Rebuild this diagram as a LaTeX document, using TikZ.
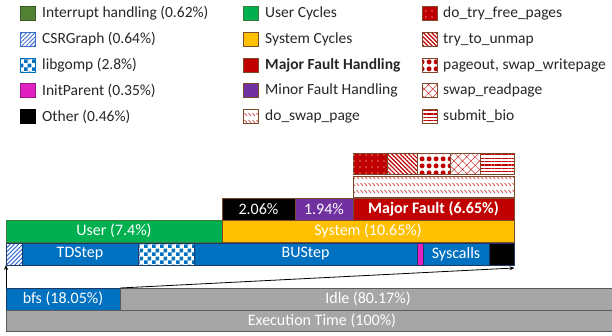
\documentclass[tikz,border=0pt]{standalone}
\usepackage{fontspec}
\setmainfont{Carlito}
\usetikzlibrary{patterns,patterns.meta,arrows.meta}

\definecolor{intgreen}{HTML}{548235}
\definecolor{usergreen}{HTML}{00B050}
\definecolor{sysyellow}{HTML}{FFC000}
\definecolor{faultred}{HTML}{C00000}
\definecolor{minorpurple}{HTML}{7030A0}
\definecolor{stepblue}{HTML}{0070C0}
\definecolor{hatchblue}{HTML}{3A6FD0}
\definecolor{initpink}{HTML}{E020C0}
\definecolor{idlegray}{HTML}{A6A6A6}
\definecolor{edgebrown}{HTML}{7B4A2A}
\definecolor{edgenavy}{HTML}{1F3864}
\definecolor{edgegreen}{HTML}{3B7A3B}
\definecolor{edgegray}{HTML}{5A5A5A}
\definecolor{legendtext}{HTML}{262626}

% 4pt checkerboard
\pgfdeclarepatternformonly{checkers}{\pgfpointorigin}{\pgfqpoint{8pt}{8pt}}{\pgfqpoint{8pt}{8pt}}{%
  \pgfpathrectangle{\pgfpointorigin}{\pgfqpoint{4pt}{4pt}}%
  \pgfpathrectangle{\pgfqpoint{4pt}{4pt}}{\pgfqpoint{4pt}{4pt}}%
  \pgfusepath{fill}}
% rows of short backslash dashes
\pgfdeclarepatternformonly{swapdash}{\pgfqpoint{-1pt}{-1pt}}{\pgfqpoint{5pt}{8pt}}{\pgfqpoint{4pt}{7pt}}{%
  \pgfsetlinewidth{0.9pt}%
  \pgfpathmoveto{\pgfqpoint{0.5pt}{5pt}}\pgfpathlineto{\pgfqpoint{3pt}{2pt}}%
  \pgfusepath{stroke}}

\newcommand{\barfont}{\fontsize{16}{18}\selectfont}
\newcommand{\legfont}{\fontsize{15.5}{18}\selectfont}

\tikzset{
  sz/.style 2 args={minimum width=#1pt, minimum height=#2pt},
  bar/.style={draw, line width=0.8pt, inner sep=0pt, outer sep=0pt,
    text=white, font=\barfont, anchor=north west},
  swatch/.style={draw, line width=0.6pt, inner sep=0pt, outer sep=0pt,
    minimum width=15pt, minimum height=14pt, anchor=west},
  legtext/.style={inner sep=0pt, anchor=west, font=\legfont, text=legendtext},
  % fills
  intfill/.style={fill=intgreen, draw=intgreen!70!black},
  csrfill/.style={fill=white, pattern={Lines[angle=45,distance=3pt,line width=1pt]}, pattern color=hatchblue},
  gompfill/.style={fill=white, pattern=checkers, pattern color=stepblue},
  initfill/.style={fill=initpink},
  otherfill/.style={fill=black},
  userfill/.style={fill=usergreen, draw=edgegreen},
  sysfill/.style={fill=sysyellow, draw=edgebrown},
  majfill/.style={fill=faultred, draw=edgebrown},
  minfill/.style={fill=minorpurple, draw=edgebrown},
  swapfill/.style={draw=edgebrown, pattern=swapdash, pattern color=faultred!60!white},
  freefill/.style={draw=edgebrown, fill=faultred,
    postaction={pattern={Dots[distance=6pt,radius=0.7pt]}, pattern color=white}},
  unmapfill/.style={draw=edgebrown, pattern={Lines[angle=-45,distance=3pt,line width=1.1pt]}, pattern color=faultred},
  pageoutfill/.style={draw=edgebrown, pattern={Dots[distance=6.5pt,radius=2.6pt]}, pattern color=faultred},
  readfill/.style={draw=edgebrown, pattern={Hatch[angle=45,distance=6pt,line width=0.5pt]}, pattern color=faultred!80!white},
  biofill/.style={draw=edgebrown, pattern={Lines[angle=0,distance=3.4pt,line width=1.2pt]}, pattern color=faultred},
  bluebar/.style={bar, fill=stepblue, draw=edgenavy},
  graybar/.style={bar, fill=idlegray, draw=edgegray},
  link/.style={line width=0.8pt, -{Stealth[length=5pt,width=4pt]}},
}

\begin{document}
\begin{tikzpicture}[x=1pt, y=-1pt]
\useasboundingbox (0,0) rectangle (612,335);

% ---- legend, first column
\node[swatch, intfill]             (li) at (20,13.5)  {};
\node[legtext] (ti) at (42,13.5)  {Interrupt handling (0.62\%)};
\node[swatch, draw=hatchblue, csrfill] (lc) at (20,39.5)  {};
\node[legtext] (tc) at (42,39.5)  {CSRGraph (0.64\%)};
\node[swatch, draw=stepblue, gompfill] (lg) at (20,65.5)  {};
\node[legtext] (tg) at (42,65.5)  {libgomp (2.8\%)};
\node[swatch, draw=initpink!70!black, initfill] (lp) at (20,90.5)  {};
\node[legtext] (tp) at (42,90.5)  {InitParent (0.35\%)};
\node[swatch, draw=black, otherfill] (lo) at (20,116.5) {};
\node[legtext] (to) at (42,116.5) {Other (0.46\%)};

% ---- legend, second column
\node[swatch, userfill]  (lu) at (243,13.5)  {};
\node[legtext] (tu) at (265,13.5)  {User Cycles};
\node[swatch, sysfill]   (ls) at (243,39.5)  {};
\node[legtext] (ts) at (265,39.5)  {System Cycles};
\node[swatch, majfill]   (lm) at (243,65.5)  {};
\node[legtext] (tm) at (265,65.5)  {\textbf{Major Fault Handling}};
\node[swatch, minfill]   (ln) at (243,90.5)  {};
\node[legtext] (tn) at (265,90.5)  {Minor Fault Handling};
\node[swatch, swapfill]  (lw) at (243,116.5) {};
\node[legtext] (tw) at (265,116.5) {do\_swap\_page};

% ---- legend, third column
\node[swatch, freefill]    (lf) at (422,13.5)  {};
\node[legtext] (tf) at (443,13.5)  {do\_try\_free\_pages};
\node[swatch, unmapfill]   (lt) at (422,39.5)  {};
\node[legtext] (tt) at (443,39.5)  {try\_to\_unmap};
\node[swatch, pageoutfill] (lq) at (422,65.5)  {};
\node[legtext] (tq) at (443,65.5)  {pageout, swap\_writepage};
\node[swatch, readfill]    (lr) at (422,90.5)  {};
\node[legtext] (tr) at (443,90.5)  {swap\_readpage};
\node[swatch, biofill]     (lb) at (422,116.5) {};
\node[legtext] (tb) at (443,116.5) {submit\_bio};

% ---- major fault breakdown
\node[bar, freefill,    sz={34}{21}] (free)    at (353,153) {};
\node[bar, unmapfill,   sz={30}{21}] (unmap)   at (387,153) {};
\node[bar, pageoutfill, sz={33}{21}] (pageout) at (417,153) {};
\node[bar, readfill,    sz={30}{21}] (readpg)  at (450,153) {};
\node[bar, biofill,     sz={34}{21}] (bio)     at (480,153) {};
\node[bar, swapfill,    sz={161}{21}] (swap)   at (353,176) {};

% ---- system breakdown
\node[bar, otherfill, draw=edgebrown, sz={73}{22}]  (sysother) at (222,198) {2.06\%};
\node[bar, minfill,   sz={58}{22}]  (minor)    at (295,198) {1.94\%};
\node[bar, majfill,   sz={161}{22}] (major)    at (353,198) {\textbf{Major Fault (6.65\%)}};

% ---- user / system
\node[bar, userfill, sz={216}{22}] (user)   at (6,220)   {User (7.4\%)};
\node[bar, sysfill,  sz={292}{22}] (system) at (222,220) {System (10.65\%)};

% ---- bfs breakdown
\node[bar, csrfill, draw=edgenavy, sz={16}{22}] (csr)   at (6,243)   {};
\node[bluebar, sz={116}{22}] (td)    at (22,243)  {TDStep};
\node[bar, gompfill, draw=edgenavy, sz={56}{22}] (gomp)  at (138,243) {};
\node[bluebar, sz={223}{22}] (bu)    at (194,243) {BUStep};
\node[bar, initfill, draw=edgenavy, sz={6}{22}]  (init)  at (417,243) {};
\node[bluebar, sz={66}{22}]  (sys)   at (423,243) {Syscalls};
\node[bar, otherfill, draw=edgenavy, sz={25}{22}] (other) at (489,243) {};

% ---- whole run
\node[bluebar, sz={114}{22}] (bfs)  at (6,288)   {bfs (18.05\%)};
\node[graybar, sz={496}{22}] (idle) at (120,288) {Idle (80.17\%)};
\node[graybar, sz={632}{21}] (exec) at (6,310)   {Execution Time (100\%)};

% ---- zoom arrows
\draw[link] (bfs.north west) -- (csr.south west);
\draw[link, shorten >=-0.5pt] (bfs.north east) -- ([yshift=-3pt]other.south east);
\end{tikzpicture}
\end{document}
